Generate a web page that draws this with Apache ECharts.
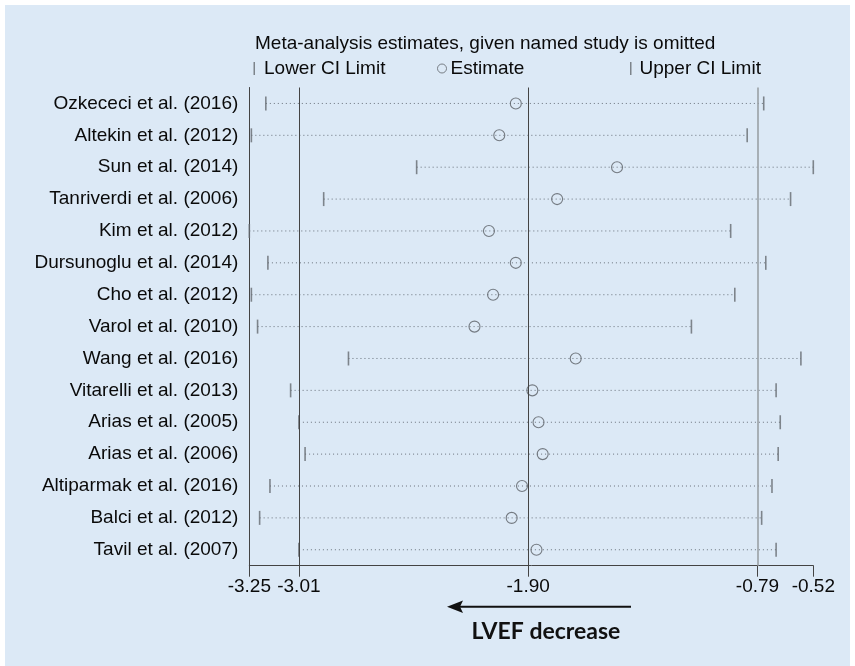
<!DOCTYPE html>
<html>
<head>
<meta charset="utf-8">
<script src="https://cdn.jsdelivr.net/npm/echarts@6/dist/echarts.min.js"></script>
<style>
  html, body { margin: 0; padding: 0; background: #ffffff; }
  #chart { width: 855px; height: 666px; }
</style>
</head>
<body>
<div id="chart"></div>
<script>
// ---- data ----
var studies = [
  'Ozkececi et al. (2016)', 'Altekin et al. (2012)', 'Sun et al. (2014)',
  'Tanriverdi et al. (2006)', 'Kim et al. (2012)', 'Dursunoglu et al. (2014)',
  'Cho et al. (2012)', 'Varol et al. (2010)', 'Wang et al. (2016)',
  'Vitarelli et al. (2013)', 'Arias et al. (2005)', 'Arias et al. (2006)',
  'Altiparmak et al. (2016)', 'Balci et al. (2012)', 'Tavil et al. (2007)'
];
var estimate = [-1.96, -2.04, -1.47, -1.76, -2.09, -1.96, -2.07, -2.16, -1.67, -1.88, -1.85, -1.83, -1.93, -1.98, -1.86];
var lowerCI  = [-3.17, -3.24, -2.44, -2.89, -3.25, -3.16, -3.24, -3.21, -2.77, -3.05, -3.01, -2.98, -3.15, -3.20, -3.01];
var upperCI  = [-0.76, -0.84, -0.52, -0.63, -0.92, -0.75, -0.90, -1.11, -0.58, -0.70, -0.68, -0.69, -0.72, -0.77, -0.70];
var xTicks = [-3.25, -3.01, -1.90, -0.79, -0.52];
var refLines = [-3.01, -1.90, -0.79];
var titleText = 'Meta-analysis estimates, given named study is omitted';
var arrowLabel = 'LVEF decrease';

var FONT = '"Liberation Sans", Arial, sans-serif';
var TXT = '#0a0a0a';

var chart = echarts.init(document.getElementById('chart'), null, { renderer: 'canvas' });

var ciData = studies.map(function (s, i) { return [i, lowerCI[i], upperCI[i]]; });
var lowData = studies.map(function (s, i) { return [lowerCI[i], i]; });
var upData = studies.map(function (s, i) { return [upperCI[i], i]; });
var estData = studies.map(function (s, i) { return [estimate[i], i]; });

var option = {
  backgroundColor: '#ffffff',
  animation: false,
  textStyle: { fontFamily: FONT },
  title: {
    text: titleText,
    left: 250, top: 29,
    textStyle: { fontFamily: FONT, fontSize: 19, fontWeight: 'normal', color: TXT }
  },
  legend: [
    {
      data: [{ name: 'Lower CI Limit', icon: 'rect' }],
      left: 248.5, top: 54, itemWidth: 1.5, itemHeight: 13, itemGap: 0,
      textStyle: { fontFamily: FONT, fontSize: 19, color: TXT, padding: [0, 0, 0, 4] }
    },
    {
      data: [{ name: 'Estimate', itemStyle: { color: 'rgba(0,0,0,0)', borderColor: '#5f646a', borderWidth: 1 } }],
      left: 432, top: 54, itemWidth: 9, itemHeight: 9,
      textStyle: { fontFamily: FONT, fontSize: 19, color: TXT, padding: [0, 0, 0, -1] }
    },
    {
      data: [{ name: 'Upper CI Limit', icon: 'rect' }],
      left: 625, top: 54, itemWidth: 1.5, itemHeight: 13,
      textStyle: { fontFamily: FONT, fontSize: 19, color: TXT, padding: [0, 0, 0, 3] }
    }
  ],
  grid: {
    left: 249.3, right: 41.7, top: 87.5, bottom: 100.3,
    containLabel: false, outerBoundsMode: 'none'
  },
  xAxis: {
    type: 'value', min: -3.25, max: -0.52,
    axisLine: { show: true, lineStyle: { color: '#444', width: 1 } },
    axisTick: { show: true, length: 11, customValues: xTicks, lineStyle: { color: '#444', width: 1 } },
    axisLabel: {
      customValues: xTicks, margin: 12, fontFamily: FONT, fontSize: 19, color: TXT,
      formatter: function (v) { return v.toFixed(2); }
    },
    splitLine: { show: false }
  },
  yAxis: {
    type: 'category', data: studies, inverse: true,
    axisLine: { show: true, lineStyle: { color: '#444', width: 1 } },
    axisTick: { show: false },
    axisLabel: { margin: 11, fontFamily: FONT, fontSize: 19, color: TXT },
    splitLine: { show: false }
  },
  series: [
    {
      name: 'CI',
      type: 'custom',
      data: ciData,
      encode: { x: [1, 2], y: 0 },
      renderItem: function (params, api) {
        var yi = api.value(0);
        var a = api.coord([api.value(1), yi]);
        var b = api.coord([api.value(2), yi]);
        return {
          type: 'line',
          shape: { x1: a[0], y1: a[1], x2: b[0], y2: b[1] },
          style: { stroke: '#69717b', lineWidth: 1, lineDash: [1, 3] }
        };
      },
      markLine: {
        silent: true, symbol: 'none', label: { show: false },
        data: refLines.map(function (v, i) {
          return {
            xAxis: v,
            lineStyle: {
              type: 'solid',
              color: i === 2 ? '#9aa0a6' : '#444',
              width: i === 2 ? 1.6 : 1
            }
          };
        })
      },
      z: 2
    },
    {
      name: 'Lower CI Limit', type: 'scatter', data: lowData,
      symbol: 'rect', symbolSize: [1.6, 14],
      itemStyle: { color: '#656a70' }, z: 3
    },
    {
      name: 'Upper CI Limit', type: 'scatter', data: upData,
      symbol: 'rect', symbolSize: [1.6, 14],
      itemStyle: { color: '#656a70' }, z: 3
    },
    {
      name: 'Estimate', type: 'scatter', data: estData,
      symbol: 'circle', symbolSize: 11,
      itemStyle: { color: 'rgba(0,0,0,0)', borderColor: '#5a5f65', borderWidth: 1.1 },
      z: 4
    }
  ],
  graphic: [
    {
      type: 'rect', z: -100, silent: true,
      shape: { x: 5, y: 5, width: 845, height: 661 },
      style: { fill: '#dce9f6' }
    },
    {
      type: 'line', silent: true,
      shape: { x1: 631, y1: 606.7, x2: 458, y2: 606.7 },
      style: { stroke: '#111', lineWidth: 2 }
    },
    {
      type: 'polygon', silent: true,
      shape: { points: [[447, 606.7], [463, 600.5], [460, 606.7], [463, 612.9]] },
      style: { fill: '#111' }
    },
    {
      type: 'text', silent: true,
      x: 546, y: 632,
      style: {
        text: arrowLabel, fill: '#111', align: 'center', verticalAlign: 'middle',
        font: 'bold 23px Lato, "Open Sans", sans-serif'
      }
    }
  ]
};

chart.setOption(option);
</script>
</body>
</html>
